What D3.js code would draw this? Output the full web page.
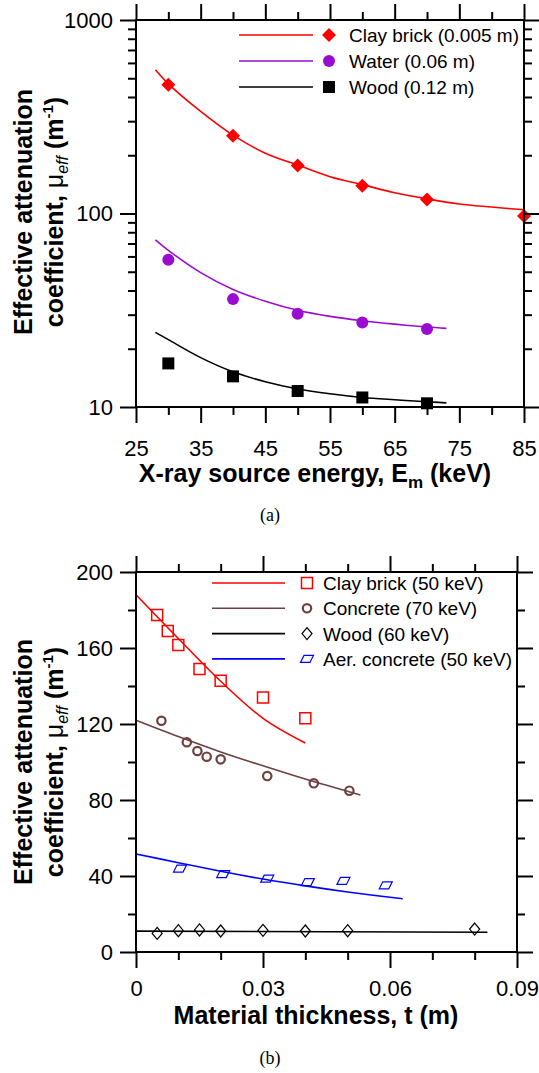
<!DOCTYPE html>
<html>
<head>
<meta charset="utf-8">
<script src="https://cdn.jsdelivr.net/npm/d3@7"></script>
<style>
  body { margin: 0; background: #fff; }
  text { font-family: "Liberation Sans", Arial, sans-serif; fill: #000; }
</style>
</head>
<body>
<script>
// ---- panel (a): mu_eff vs X-ray source energy ----
var clayKeV = [30, 40, 50, 60, 70, 85];
var clayMu = [463, 252, 177, 139, 118, 97];
var waterKeV = [30, 40, 50, 60, 70];
var waterMu = [57.6, 36.1, 30.3, 27.3, 25.3];
var woodKeV = [30, 40, 50, 60, 70];
var woodMu = [16.8, 14.4, 12.1, 11.2, 10.45];
// fitted curves
var clayFitKeV = [28, 30, 35, 40, 45, 50, 55, 60, 65, 70, 75, 80, 85];
var clayFitMu = [553, 468, 337, 254, 205, 178, 155, 141, 128, 119, 112, 108, 104.5];
var waterFitKeV = [28, 30, 35, 40, 45, 50, 55, 60, 65, 70, 73];
var waterFitMu = [73, 64.5, 49.5, 40.5, 35.2, 31.6, 29.4, 27.9, 26.8, 25.9, 25.5];
var woodFitKeV = [28, 30, 35, 40, 45, 50, 55, 60, 65, 70, 73];
var woodFitMu = [24.3, 22.3, 18.0, 15.2, 13.5, 12.4, 11.7, 11.2, 10.9, 10.65, 10.5];
var keVTicks = [25, 35, 45, 55, 65, 75, 85];
var keVMinor = [30, 40, 50, 60, 70, 80];
var muTicksA = [10, 100, 1000];
var legendA = ["Clay brick (0.005 m)", "Water (0.06 m)", "Wood (0.12 m)"];

// ---- panel (b): mu_eff vs material thickness ----
var clayT = [0.005, 0.0075, 0.01, 0.015, 0.02, 0.03, 0.04];
var clayMuB = [177.4, 169, 161.6, 149, 142.8, 134, 123];
var concT = [0.006, 0.012, 0.0145, 0.0167, 0.02, 0.031, 0.042, 0.0504];
var concMu = [121.7, 110.4, 105.8, 102.8, 101.4, 92.6, 88.8, 84.9];
var woodT = [0.005, 0.01, 0.015, 0.02, 0.03, 0.04, 0.05, 0.08];
var woodMuB = [9.8, 11.2, 11.6, 11.05, 11.4, 11.05, 11.2, 12.1];
var aerT = [0.0104, 0.0206, 0.031, 0.0406, 0.049, 0.059];
var aerMu = [43.9, 41, 38.6, 36.8, 37.4, 35.1];
var clayFitT = [0, 0.01, 0.02, 0.03, 0.04];
var clayFitMuB = [188, 165, 142.5, 123, 110];
var concFitT = [0, 0.01, 0.02, 0.03, 0.04, 0.053];
var concFitMu = [122, 113.4, 105.3, 98, 91, 82.6];
var woodFitT = [0, 0.083];
var woodFitMuB = [11.0, 10.4];
var aerFitT = [0, 0.01, 0.02, 0.03, 0.04, 0.05, 0.063];
var aerFitMu = [51.6, 47, 42.5, 38.4, 34.8, 31.6, 28];
var tTicks = [0, 0.03, 0.06, 0.09];
var tMinor = [0.01, 0.02, 0.04, 0.05, 0.07, 0.08];
var muTicksB = [0, 40, 80, 120, 160, 200];
var muMinorB = [20, 60, 100, 140, 180];
var legendB = ["Clay brick (50 keV)", "Concrete (70 keV)", "Wood (60 keV)", "Aer. concrete (50 keV)"];

var RED = "#ff0000", PURPLE = "#9a0dd0", BROWN = "#6e4040", BLUE = "#0000ff";

var svg = d3.select("body").append("svg")
  .attr("width", 539).attr("height", 1073);

var shapes = {
  diamond: "M0,-7L7,0L0,7L-7,0Z",
  square: "M-6,-6H6V6H-6Z",
  squareOpen: "M-5.5,-5.5H5.5V5.5H-5.5Z",
  diamondOpen: "M0,-6L5,0L0,6L-5,0Z",
  para: "M-3,-3.5L6.5,-3.5L3,3.5L-6.5,3.5Z"
};

function marker(g, kind, color, cx, cy) {
  if (kind == "circle") {
    g.append("circle").attr("cx", cx).attr("cy", cy).attr("r", 6).attr("fill", color);
  } else if (kind == "circleOpen") {
    g.append("circle").attr("cx", cx).attr("cy", cy).attr("r", 4.2)
      .attr("fill", "none").attr("stroke", color).attr("stroke-width", 2.2);
  } else {
    var filled = (kind == "diamond" || kind == "square");
    g.append("path").attr("d", shapes[kind])
      .attr("transform", "translate(" + cx + "," + cy + ")")
      .attr("fill", filled ? color : "none")
      .attr("stroke", filled ? "none" : color)
      .attr("stroke-width", kind == "squareOpen" ? 1.5 : 1.2);
  }
}

function frame(x, y, opt) {
  var x0 = x.range()[0], x1 = x.range()[1], y0 = y.range()[0], y1 = y.range()[1];
  function styleAxis(a) {
    a.select(".domain").remove();
    a.selectAll("line").attr("stroke", "#000").attr("stroke-width", 2);
    a.selectAll("text").style("font-size", "22px").attr("fill", "#000");
  }
  // bottom
  svg.append("g").attr("transform", "translate(0," + y0 + ")")
    .call(d3.axisBottom(x).tickValues(opt.xMinor).tickSize(8).tickFormat("")).call(styleAxis);
  svg.append("g").attr("transform", "translate(0," + y0 + ")")
    .call(d3.axisBottom(x).tickValues(opt.xMajor).tickSize(16).tickPadding(opt.xPad).tickFormat(opt.xFmt)).call(styleAxis);
  // top
  svg.append("g").attr("transform", "translate(0," + y1 + ")")
    .call(d3.axisTop(x).tickValues(opt.xMinor).tickSize(8).tickFormat("")).call(styleAxis);
  svg.append("g").attr("transform", "translate(0," + y1 + ")")
    .call(d3.axisTop(x).tickValues(opt.xMajor).tickSize(16).tickFormat("")).call(styleAxis);
  // left
  svg.append("g").attr("transform", "translate(" + x0 + ",0)")
    .call(d3.axisLeft(y).tickValues(opt.yMinor).tickSize(8).tickFormat("")).call(styleAxis);
  svg.append("g").attr("transform", "translate(" + x0 + ",0)")
    .call(d3.axisLeft(y).tickValues(opt.yMajor).tickSize(16).tickPadding(7).tickFormat(d3.format("d"))).call(styleAxis);
  // right
  svg.append("g").attr("transform", "translate(" + x1 + ",0)")
    .call(d3.axisRight(y).tickValues(opt.yMinor).tickSize(8).tickFormat("")).call(styleAxis);
  svg.append("g").attr("transform", "translate(" + x1 + ",0)")
    .call(d3.axisRight(y).tickValues(opt.yMajor).tickSize(16).tickFormat("")).call(styleAxis);
  svg.append("rect").attr("x", x0).attr("y", y1).attr("width", x1 - x0).attr("height", y0 - y1)
    .attr("fill", "none").attr("stroke", "#000").attr("stroke-width", 2);
}

function yTitle(cy, b1, b2) {
  var t = svg.append("text").attr("transform", "rotate(-90)")
    .attr("text-anchor", "middle").style("font-size", "25px").style("font-weight", "bold");
  t.append("tspan").attr("x", -cy).attr("y", b1).text("Effective attenuation");
  t.append("tspan").attr("x", -cy).attr("y", b2).text("coefficient, ");
  t.append("tspan").style("font-weight", "normal").text("\u03bc");
  t.append("tspan").style("font-weight", "normal").style("font-style", "italic")
    .style("font-size", "16px").attr("dy", 5).text("eff");
  t.append("tspan").attr("dy", -5).text(" (m");
  t.append("tspan").style("font-size", "15px").attr("dy", -10).text("-1");
  t.append("tspan").attr("dy", 10).text(")");
}

function series(x, y, xs, ys, color, kind) {
  var g = svg.append("g");
  xs.forEach(function(v, i) { marker(g, kind, color, x(v), y(ys[i])); });
}

function fit(x, y, xs, ys, color) {
  var pts = xs.map(function(v, i) { return [v, ys[i]]; });
  svg.append("path").datum(pts)
    .attr("d", d3.line().x(function(d) { return x(d[0]); }).y(function(d) { return y(d[1]); }).curve(d3.curveCatmullRom))
    .attr("fill", "none").attr("stroke", color).attr("stroke-width", 1.6);
}

function legend(items, top, step, lx0, lx1, mx, tx) {
  items.forEach(function(it, i) {
    var cy = top + i * step;
    svg.append("line").attr("x1", lx0).attr("x2", lx1).attr("y1", cy).attr("y2", cy)
      .attr("stroke", it.color).attr("stroke-width", 1.6);
    marker(svg, it.kind, it.color, mx, cy);
    svg.append("text").attr("x", tx).attr("y", cy + 7).style("font-size", "19px")
      .attr("fill", it.text || it.color).text(it.label);
  });
}

// ===== panel (a) =====
var xA = d3.scaleLinear().domain([25, 85]).range([136, 524]);
var yA = d3.scaleLog().domain([10, 1000]).range([407, 20]);
var minorA = yA.ticks().filter(function(v) { return muTicksA.indexOf(v) < 0; });

fit(xA, yA, clayFitKeV, clayFitMu, RED);
fit(xA, yA, waterFitKeV, waterFitMu, PURPLE);
fit(xA, yA, woodFitKeV, woodFitMu, "#000");
series(xA, yA, clayKeV, clayMu, RED, "diamond");
series(xA, yA, waterKeV, waterMu, PURPLE, "circle");
series(xA, yA, woodKeV, woodMu, "#000", "square");

frame(xA, yA, { xMajor: keVTicks, xMinor: keVMinor, yMajor: muTicksA, yMinor: minorA,
  xFmt: d3.format("d"), xPad: 17 });

legend([
  { label: legendA[0], color: RED, kind: "diamond" },
  { label: legendA[1], color: PURPLE, kind: "circle" },
  { label: legendA[2], color: "#000", kind: "square" }
], 35, 26, 239, 313, 329, 349);

yTitle(212, 32, 63);
var xtA = svg.append("text").attr("x", 315).attr("y", 482).attr("text-anchor", "middle")
  .style("font-size", "25px").style("font-weight", "bold");
xtA.append("tspan").text("X-ray source energy, E");
xtA.append("tspan").style("font-size", "17px").attr("dy", 6).text("m");
xtA.append("tspan").attr("dy", -6).text(" (keV)");
svg.append("text").attr("x", 270).attr("y", 521).attr("text-anchor", "middle")
  .style("font-family", "'Liberation Serif', 'Times New Roman', serif").style("font-size", "18px").text("(a)");

// ===== panel (b) =====
var xB = d3.scaleLinear().domain([0, 0.09]).range([136, 517]);
var yB = d3.scaleLinear().domain([0, 200]).range([952, 572]);

fit(xB, yB, clayFitT, clayFitMuB, RED);
fit(xB, yB, concFitT, concFitMu, BROWN);
fit(xB, yB, woodFitT, woodFitMuB, "#000");
fit(xB, yB, aerFitT, aerFitMu, BLUE);
series(xB, yB, clayT, clayMuB, RED, "squareOpen");
series(xB, yB, concT, concMu, BROWN, "circleOpen");
series(xB, yB, woodT, woodMuB, "#000", "diamondOpen");
series(xB, yB, aerT, aerMu, BLUE, "para");

frame(xB, yB, { xMajor: tTicks, xMinor: tMinor, yMajor: muTicksB, yMinor: muMinorB,
  xFmt: function(d) { return d == 0 ? "0" : d3.format(".2f")(d); }, xPad: 12 });

legend([
  { label: legendB[0], color: RED, kind: "squareOpen" },
  { label: legendB[1], color: BROWN, kind: "circleOpen" },
  { label: legendB[2], color: "#000", kind: "diamondOpen" },
  { label: legendB[3], color: BLUE, kind: "para" }
], 583, 25.3, 212, 285, 307, 323);

yTitle(762, 32, 63);
svg.append("text").attr("x", 316).attr("y", 1024).attr("text-anchor", "middle")
  .style("font-size", "25px").style("font-weight", "bold").text("Material thickness, t (m)");
svg.append("text").attr("x", 270).attr("y", 1064).attr("text-anchor", "middle")
  .style("font-family", "'Liberation Serif', 'Times New Roman', serif").style("font-size", "18px").text("(b)");
</script>
</body>
</html>
